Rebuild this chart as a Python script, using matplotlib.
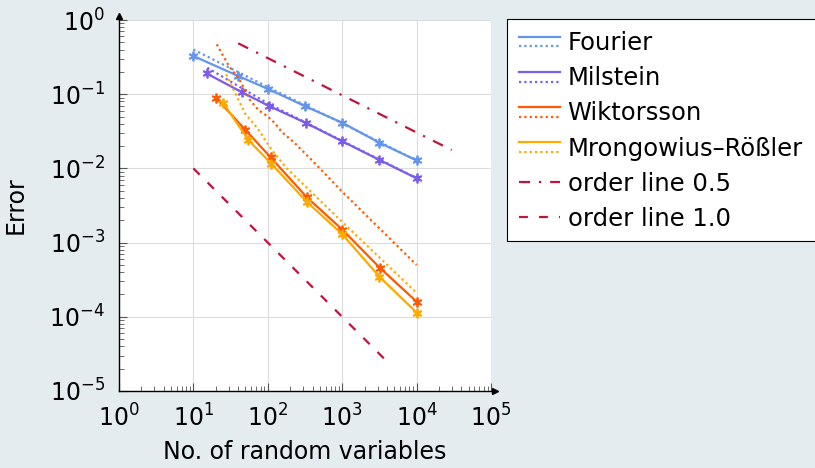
import matplotlib
matplotlib.use("Agg")
import matplotlib.pyplot as plt
from matplotlib.legend_handler import HandlerBase
from matplotlib.lines import Line2D
from matplotlib.patches import Rectangle
from matplotlib.ticker import LogLocator, NullFormatter

# measured errors (solid lines)
fourier_x = [10, 40, 100, 316, 1000, 3162, 10000]
fourier_err = [0.327, 0.176, 0.118, 0.069, 0.0413, 0.0222, 0.0128]
milstein_x = [15, 45, 105, 324, 1000, 3162, 10000]
milstein_err = [0.191, 0.106, 0.069, 0.041, 0.0232, 0.013, 0.00735]
wiktorsson_x = [20, 50, 109, 333, 1000, 3220, 10000]
wiktorsson_err = [0.0897, 0.033, 0.0141, 0.0041, 0.0015, 0.000455, 0.00016]
mr_x = [25, 55, 112, 333, 1000, 3162, 10000]
mr_err = [0.0769, 0.024, 0.0115, 0.00356, 0.0013, 0.000347, 0.000114]

# error bounds (dotted lines)
fourier_bx = [10, 100, 1000, 10000]
fourier_bound = [0.40, 0.125, 0.0405, 0.0128]
milstein_bx = [15.4, 100, 1000, 10000]
milstein_bound = [0.227, 0.075, 0.0235, 0.0074]
wiktorsson_bx = [20.6, 30, 42, 57.6, 75, 100, 125, 154, 232, 409, 1000, 10000]
wiktorsson_bound = [0.47, 0.24, 0.155, 0.0835, 0.061, 0.05, 0.0405, 0.031,
                    0.0218, 0.0123, 0.00485, 0.0005]
mr_bx = [27.5, 34, 49.4, 64, 79, 92, 118, 180, 1000, 10000]
mr_bound = [0.185, 0.12, 0.055, 0.0405, 0.031, 0.024, 0.0168, 0.01, 0.0019, 0.00021]

# order lines
order05_x = [40, 29600]
order05_y = [0.485, 0.0177]
order10_x = [10, 3760]
order10_y = [0.01, 2.66e-5]

c_fourier = "#6495ED"
c_milstein = "#7B5CEB"
c_wikt = "#FF5A00"
c_mr = "#FFA800"
c_order = "#C0143C"
dotted = (0, (1, 1.4))

plt.rcParams["font.family"] = "DejaVu Sans"
plt.rcParams["mathtext.fontset"] = "dejavusans"

W, H = 815, 468
fig = plt.figure(figsize=(W / 100, H / 100), dpi=100)
fig.patch.set_facecolor("#E4ECEF")
ax = fig.add_axes([119 / W, 1 - 391 / H, 372 / W, 371 / H])
ax.set_facecolor("white")

mk = dict(marker=(6, 2, 0), markersize=7, markeredgewidth=1.3)
lw = 1.6

ax.plot(fourier_x, fourier_err, color=c_fourier, lw=lw, mec=c_fourier, **mk)
ax.plot(fourier_bx, fourier_bound, color=c_fourier, lw=lw, ls=dotted)
ax.plot(milstein_x, milstein_err, color=c_milstein, lw=lw, mec=c_milstein, **mk)
ax.plot(milstein_bx, milstein_bound, color=c_milstein, lw=lw, ls=dotted)
ax.plot(wiktorsson_x, wiktorsson_err, color=c_wikt, lw=lw, mec=c_wikt, **mk)
ax.plot(wiktorsson_bx, wiktorsson_bound, color=c_wikt, lw=lw, ls=dotted)
ax.plot(mr_x, mr_err, color=c_mr, lw=lw, mec=c_mr, **mk)
ax.plot(mr_bx, mr_bound, color=c_mr, lw=lw, ls=dotted)
ax.plot(order05_x, order05_y, color=c_order, lw=lw, ls=(0, (5, 4, 1, 4)))
ax.plot(order10_x, order10_y, color=c_order, lw=lw, ls=(0, (4, 5)))

ax.set_xscale("log")
ax.set_yscale("log")
ax.set_xlim(1, 1e5)
ax.set_ylim(1e-5, 1)
ax.xaxis.set_major_locator(LogLocator(base=10, numticks=10))
ax.yaxis.set_major_locator(LogLocator(base=10, numticks=10))
ax.xaxis.set_minor_locator(LogLocator(base=10, subs=range(2, 10), numticks=20))
ax.yaxis.set_minor_locator(LogLocator(base=10, subs=range(2, 10), numticks=20))
ax.xaxis.set_minor_formatter(NullFormatter())
ax.yaxis.set_minor_formatter(NullFormatter())

ax.grid(True, which="major", color="#DCDCDC", lw=0.8)
ax.tick_params(which="both", direction="in", top=False, right=False,
               labelsize=17, color="#555555")
ax.tick_params(which="major", length=6, width=0.8, pad=10)
ax.tick_params(which="minor", length=3.5, width=0.6)
for side in ["top", "right"]:
    ax.spines[side].set_visible(False)
for side in ["left", "bottom"]:
    ax.spines[side].set_linewidth(1.0)

# axis arrows
ax.plot(0, 1.012, marker="^", color="black", markersize=5, transform=ax.transAxes, clip_on=False)
ax.plot(1.012, 0, marker=">", color="black", markersize=5, transform=ax.transAxes, clip_on=False)

ax.set_xlabel("No. of random variables", fontsize=17, labelpad=6)
ax.set_ylabel("Error", fontsize=17, labelpad=16)


class StackHandler(HandlerBase):
    def create_artists(self, legend, orig_handle, xdescent, ydescent,
                       width, height, fontsize, trans):
        color = orig_handle[0]
        y0 = height / 2 - ydescent
        l1 = Line2D([-xdescent, width - xdescent], [y0 + 3.5, y0 + 3.5],
                    color=color, lw=lw, transform=trans)
        l2 = Line2D([-xdescent, width - xdescent], [y0 - 3.5, y0 - 3.5],
                    color=color, lw=lw, ls=dotted, transform=trans)
        return [l1, l2]


# legend frame runs off the right edge of the figure
fig.patches.append(Rectangle((507 / W, 1 - 241 / H), 330 / W, 222 / H,
                             transform=fig.transFigure, facecolor="white",
                             edgecolor="black", lw=0.8, zorder=0))

handles = [
    (c_fourier,), (c_milstein,), (c_wikt,), (c_mr,),
    Line2D([], [], color=c_order, lw=lw, ls=(0, (5, 4, 1, 4))),
    Line2D([], [], color=c_order, lw=lw, ls=(0, (4, 5))),
]
labels = ["Fourier", "Milstein", "Wiktorsson", "Mrongowius–Rößler",
          "order line 0.5", "order line 1.0"]
leg = fig.legend(handles, labels, loc="upper left", bbox_to_anchor=(519 / W, 1 - 31 / H),
                 handler_map={tuple: StackHandler()}, fontsize=17.5, frameon=False,
                 handlelength=1.7, handletextpad=0.3, labelspacing=0.46,
                 borderpad=0, borderaxespad=0)

fig.savefig("out.png", dpi=100, facecolor=fig.get_facecolor())
